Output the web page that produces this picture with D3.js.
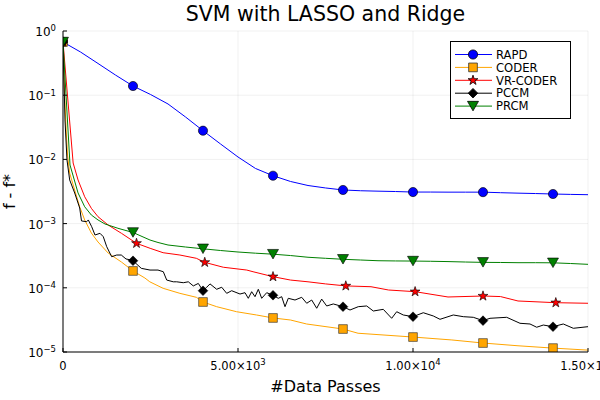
<!DOCTYPE html>
<html><head><meta charset="utf-8">
<script src="https://cdn.jsdelivr.net/npm/d3@7"></script>
<style>body{margin:0;background:#fff} svg{font-family:"DejaVu Sans",sans-serif}</style>
</head><body><svg id="c" width="600" height="400"></svg>
<script>
const title = "SVM with LASSO and Ridge";
const xLabel = "#Data Passes";
const yLabel = "f - f*";
const seriesNames = ["RAPD","CODER","VR-CODER","PCCM","PRCM"];
const seriesColors = ["#0000ff","#ffa500","#ff0000","#000000","#008000"];
const xTicks = [0,5000,10000,15000];
const xTickLabels = ["0","5.00×10|3","1.00×10|4","1.50×10|4"];
const yTicks = [1,1e-1,1e-2,1e-3,1e-4,1e-5];
const yTickLabels = ["10|0","10|−1","10|−2","10|−3","10|−4","10|−5"];

const rapdX = [0,500,1000,1500,2000,2500,3000,3500,4000,4500,5000,5500,6000,6500,7000,7500,8000,8500,9000,9500,10000,10500,11000,11500,12000,12500,13000,13500,14000,14500,15000];
const rapdY = [0.674,0.471,0.312,0.206,0.139,0.1026,0.073,0.0458,0.028,0.0174,0.0109,0.00722,0.00557,0.00453,0.00392,0.00359,0.00334,0.00325,0.0032,0.00316,0.0031,0.0031,0.00309,0.00309,0.00309,0.00303,0.00298,0.00294,0.00289,0.00285,0.00282];

const coderX = [0,40,90,130,190,333,476,620,810,1000,1290,1670,2000,2340,2480,2860,3340,3810,4000,4390,4960,5530,6000,6500,6960,8000,8430,10000,11110,12000,13000,14000,15000];
const coderY = [0.674,0.1205,0.0287,0.0117,0.00614,0.00334,0.00183,0.00114,7.14e-4,5.17e-4,3.48e-4,2.52e-4,1.83e-4,1.42e-4,1.24e-4,9.82e-5,8.2e-5,7.11e-5,6.01e-5,5.08e-5,4.24e-5,3.77e-5,3.39e-5,3.15e-5,2.73e-5,2.28e-5,1.96e-5,1.71e-5,1.54e-5,1.38e-5,1.25e-5,1.15e-5,1.07e-5];

const vrX = [0,290,430,620,810,1000,1290,1670,2100,2490,2860,3340,3810,4050,4580,5250,5430,6000,6500,7000,7500,8080,8800,9300,10060,11000,12000,12500,13000,14080,15000];
const vrY = [0.674,0.00879,0.00478,0.00262,0.00173,0.00128,9.5e-4,7.06e-4,4.93e-4,4.12e-4,3.52e-4,3.24e-4,2.88e-4,2.49e-4,2.09e-4,1.89e-4,1.78e-4,1.49e-4,1.32e-4,1.24e-4,1.15e-4,1.07e-4,1.04e-4,9.24e-5,8.7e-5,7.19e-5,7.45e-5,7.3e-5,6.23e-5,5.86e-5,5.74e-5];

const pccmX = [0,57,114,191,334,477,529,677,723,820,914,1057,1151,1249,1391,1534,1666,1800,1951,2000,2237,2486,2714,2866,2963,3151,3249,3437,3580,3723,3866,4000,4106,4200,4391,4534,4677,4820,5057,5200,5294,5391,5486,5580,5677,5820,6000,6151,6249,6343,6437,6629,6820,6963,7106,7249,7391,7534,7723,8000,8200,8437,8677,8866,9151,9391,9534,9723,10000,10294,10580,10771,11151,11437,11723,12000,12200,12677,13057,13343,13534,13723,14000,14294,14580,15000];
const pccmY = [0.674,0.0411,0.0098,0.00478,0.0030,0.00175,0.0011,0.00107,0.00114,8.95e-4,6.64e-4,7.06e-4,6.25e-4,4.37e-4,3.05e-4,3.24e-4,3.24e-4,2.81e-4,2.71e-4,2.64e-4,2.01e-4,1.89e-4,1.89e-4,1.78e-4,1.32e-4,1.24e-4,1.24e-4,1.20e-4,1.24e-4,1.07e-4,1.17e-4,9.01e-5,1.02e-4,1.15e-4,9.48e-5,1.02e-4,8.2e-5,9.01e-5,8.0e-5,8.39e-5,6.86e-5,8.69e-5,7.27e-5,9.48e-5,6.86e-5,8.39e-5,7.64e-5,6.86e-5,7.27e-5,5.08e-5,6.86e-5,6.45e-5,7.11e-5,5.74e-5,6.45e-5,4.80e-5,6.67e-5,5.21e-5,5.60e-5,5.08e-5,4.51e-5,5.08e-5,5.21e-5,4.35e-5,4.62e-5,3.35e-5,4.24e-5,3.77e-5,3.55e-5,4.09e-5,3.64e-5,3.23e-5,3.77e-5,3.55e-5,3.47e-5,3.08e-5,3.35e-5,3.47e-5,2.80e-5,2.73e-5,2.43e-5,2.63e-5,2.48e-5,2.73e-5,2.34e-5,2.48e-5];

const prcmX = [0,200,430,620,810,1000,1200,1570,2000,2486,2714,3000,3500,4000,4500,5000,5500,6000,6500,7000,7500,8000,8500,9000,9500,10000,10500,11000,11500,12000,12500,13000,13500,14000,14500,15000];
const prcmY = [0.674,0.00818,0.0030,0.00183,0.00136,0.00114,9.86e-4,8.45e-4,7.27e-4,5.55e-4,5.08e-4,4.64e-4,4.32e-4,4.05e-4,3.81e-4,3.61e-4,3.46e-4,3.34e-4,3.18e-4,2.99e-4,2.88e-4,2.78e-4,2.71e-4,2.64e-4,2.62e-4,2.61e-4,2.59e-4,2.56e-4,2.52e-4,2.49e-4,2.48e-4,2.46e-4,2.46e-4,2.45e-4,2.39e-4,2.32e-4];

const markerXs = [
  [0,2000,4000,6000,8000,10000,12000,14000],
  [0,2000,4000,6000,8000,10000,12000,14000],
  [0,2100,4050,6000,8080,10060,12000,14080],
  [0,2000,4000,6000,8000,10000,12000,14000],
  [0,2000,4000,6000,8000,10000,12000,14000]
];

const seriesX = [rapdX, coderX, vrX, pccmX, prcmX];
const seriesY = [rapdY, coderY, vrY, pccmY, prcmY];

const W = 600, H = 400;
const m = {l:63, r:12, t:31, b:48};
const svg = d3.select("#c");
const x = d3.scaleLinear().domain([0,15000]).range([m.l, W-m.r]);
const y = d3.scaleLog().domain([1e-5,1]).range([H-m.b, m.t]);

// grid
const g = svg.append("g");
g.selectAll(".gx").data(xTicks).enter().append("line")
  .attr("x1", d=>x(d)).attr("x2", d=>x(d)).attr("y1", m.t).attr("y2", H-m.b)
  .attr("stroke","#000").attr("stroke-opacity",0.1).attr("stroke-width",0.6);
g.selectAll(".gy").data(yTicks).enter().append("line")
  .attr("x1", m.l).attr("x2", W-m.r).attr("y1", d=>y(d)).attr("y2", d=>y(d))
  .attr("stroke","#000").attr("stroke-opacity",0.1).attr("stroke-width",0.6);

svg.append("clipPath").attr("id","clip").append("rect")
  .attr("x", m.l).attr("y", m.t).attr("width", W-m.l-m.r).attr("height", H-m.t-m.b);

const line = d3.line().x(d=>x(d[0])).y(d=>y(d[1]));
const plot = svg.append("g").attr("clip-path","url(#clip)");

function valueAt(xs, ys, xv){
  for (let i=0;i<xs.length;i++){ if (xs[i]===xv) return ys[i]; }
  for (let i=0;i<xs.length-1;i++){
    if (xs[i]<=xv && xv<=xs[i+1]){
      const t=(xv-xs[i])/(xs[i+1]-xs[i]);
      return Math.pow(10, Math.log10(ys[i])*(1-t)+Math.log10(ys[i+1])*t);
    }
  }
  return ys[ys.length-1];
}

const diamond = {draw(ctx,size){const r=Math.sqrt(size/2);ctx.moveTo(0,-r);ctx.lineTo(r,0);ctx.lineTo(0,r);ctx.lineTo(-r,0);ctx.closePath();}};
const dtri = {draw(ctx,size){const s=Math.sqrt(size*4/Math.sqrt(3));const h=s*Math.sqrt(3)/2;ctx.moveTo(-s/2,-h/2);ctx.lineTo(s/2,-h/2);ctx.lineTo(0,h/2);ctx.closePath();}};
const symbols = [
  d3.symbol().type(d3.symbolCircle).size(66),
  d3.symbol().type(d3.symbolSquare).size(76),
  d3.symbol().type(d3.symbolStar).size(30),
  d3.symbol().type(diamond).size(46),
  d3.symbol().type(dtri).size(52)
];
const mstroke = ["#000","#333","#000","#000","#000"];

seriesNames.forEach((name,i)=>{
  const data = seriesX[i].map((xv,j)=>[xv, seriesY[i][j]]);
  plot.append("path").datum(data).attr("d", line)
    .attr("fill","none").attr("stroke", seriesColors[i]).attr("stroke-width",1);
});
seriesNames.forEach((name,i)=>{
  const mk = markerXs[i].map(xv=>[xv, valueAt(seriesX[i], seriesY[i], xv)]);
  plot.selectAll(null).data(mk).enter().append("path")
    .attr("d", symbols[i])
    .attr("transform", d=>`translate(${x(d[0])},${y(d[1])})`)
    .attr("fill", seriesColors[i]).attr("stroke", mstroke[i]).attr("stroke-width",0.8).attr("stroke-opacity",0.8);
});

// axes
svg.append("line").attr("x1",m.l).attr("x2",m.l).attr("y1",m.t).attr("y2",H-m.b).attr("stroke","#000").attr("stroke-width",1);
svg.append("line").attr("x1",m.l).attr("x2",W-m.r).attr("y1",H-m.b).attr("y2",H-m.b).attr("stroke","#000").attr("stroke-width",1);
svg.selectAll(".tx").data(xTicks).enter().append("line")
  .attr("x1",d=>x(d)).attr("x2",d=>x(d)).attr("y1",H-m.b).attr("y2",H-m.b-4).attr("stroke","#000");
svg.selectAll(".ty").data(yTicks).enter().append("line")
  .attr("x1",m.l).attr("x2",m.l+4).attr("y1",d=>y(d)).attr("y2",d=>y(d)).attr("stroke","#000");

function supText(sel, label){
  const parts = label.split("|");
  sel.text(null);
  sel.append("tspan").text(parts[0]);
  if (parts.length>1) sel.append("tspan").attr("dy","-0.55em").attr("font-size","8.5px").text(parts[1]);
}
xTicks.forEach((t,i)=>{
  const tx = svg.append("text").attr("x", x(t)).attr("y", H-m.b+18)
    .attr("text-anchor","middle").attr("font-size","11.5px").attr("fill","#000");
  supText(tx, xTickLabels[i]);
});
yTicks.forEach((t,i)=>{
  const tx = svg.append("text").attr("x", m.l-7).attr("y", y(t)+5)
    .attr("text-anchor","end").attr("font-size","12px").attr("fill","#000");
  supText(tx, yTickLabels[i]);
});

svg.append("text").attr("x",(m.l+W-m.r)/2).attr("y",21).attr("text-anchor","middle")
  .attr("font-size","20.5px").text(title);
svg.append("text").attr("x",(m.l+W-m.r)/2).attr("y",392).attr("text-anchor","middle")
  .attr("font-size","16px").text(xLabel);
svg.append("text").attr("transform",`translate(15,${(m.t+H-m.b)/2}) rotate(-90)`).attr("text-anchor","middle")
  .attr("font-size","16px").text(yLabel);

// legend
const lg = svg.append("g");
lg.append("rect").attr("x",450.5).attr("y",41.5).attr("width",120).attr("height",77)
  .attr("fill","#fff").attr("stroke","#000").attr("stroke-width",1);
seriesNames.forEach((name,i)=>{
  const yy = 54.5 + i*12.9;
  lg.append("line").attr("x1",455).attr("x2",492).attr("y1",yy).attr("y2",yy)
    .attr("stroke",seriesColors[i]).attr("stroke-width",1);
  lg.append("path").attr("d", symbols[i]).attr("transform",`translate(473,${yy})`)
    .attr("fill",seriesColors[i]).attr("stroke",mstroke[i]).attr("stroke-width",0.8);
  lg.append("text").attr("x",496).attr("y",yy+4.2).attr("font-size","11.6px").text(name);
});
</script></body></html>
